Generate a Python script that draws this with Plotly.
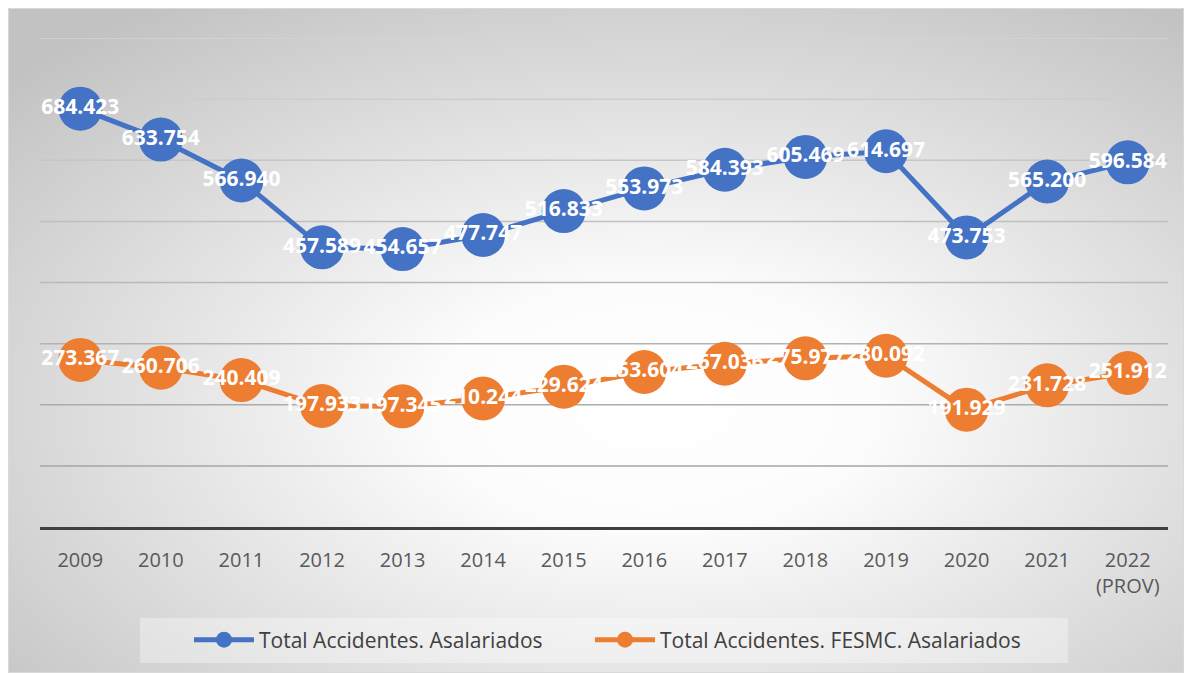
import base64
import plotly.graph_objects as go

years = ["2009", "2010", "2011", "2012", "2013", "2014", "2015", "2016", "2017",
         "2018", "2019", "2020", "2021", "2022<br>(PROV)"]
total_asalariados = [684423, 633754, 566940, 457589, 454657, 477747, 516833, 553973,
                     584393, 605469, 614697, 473753, 565200, 596584]
fesmc_asalariados = [273367, 260706, 240409, 197933, 197345, 210244, 229624, 253604,
                     267036, 275977, 280092, 191929, 231728, 251912]
series_names = ["Total Accidentes. Asalariados", "Total Accidentes. FESMC. Asalariados"]
colors = ["#4472C4", "#ED7D31"]

# figure sits at an 8px page offset (body margin)
W, H = 1176, 665
ML, MR, MT, MB = 32, 16, 30, 146
PW, PH = W - ML - MR, H - MT - MB
OFF = 8


def px_to_paper_x(px):
    return (px - OFF - ML) / PW


def px_to_paper_y(py):
    return (H - MB - (py - OFF)) / PH


def fmt(v):
    return f"{v:,}".replace(",", ".")


fig = go.Figure()
for i, (name, vals, col) in enumerate(zip(series_names, [total_asalariados, fesmc_asalariados], colors)):
    fig.add_trace(go.Scatter(
        x=years, y=vals, name=name,
        mode="lines+markers+text",
        line=dict(color=col, width=5),
        marker=dict(color=col, size=44),
        text=[fmt(v) for v in vals],
        textposition="middle center",
        textfont=dict(color="white", size=21, family="Open Sans", weight="bold"),
        cliponaxis=False,
        legend="legend" if i == 0 else "legend2",
    ))

# radial gradient background as an SVG image
svg = f'''<svg xmlns="http://www.w3.org/2000/svg" width="{W}" height="{H}" viewBox="0 0 {W} {H}" preserveAspectRatio="none">
<defs><radialGradient id="g" cx="0.55" cy="0.6" r="0.74" gradientUnits="objectBoundingBox">
<stop offset="0" stop-color="#ffffff"/><stop offset="0.25" stop-color="#fcfcfc"/>
<stop offset="1" stop-color="#c2c2c2"/></radialGradient></defs>
<rect x="0" y="0" width="{W}" height="{H}" fill="url(#g)"/></svg>'''
src = "data:image/svg+xml;base64," + base64.b64encode(svg.encode()).decode()
fig.add_layout_image(dict(
    source=src, xref="paper", yref="paper",
    x=-ML / PW, y=1 + MT / PH, sizex=W / PW, sizey=H / PH,
    xanchor="left", yanchor="top", sizing="stretch", layer="below",
))

shapes = [dict(type="rect", xref="paper", yref="paper",
               x0=-ML / PW + 0.0004, x1=1 + MR / PW - 0.0004,
               y0=-MB / PH + 0.001, y1=1 + MT / PH - 0.001,
               line=dict(color="#D9D9D9", width=1), fillcolor="rgba(0,0,0,0)", layer="below")]
# gridlines with a gradient in colour (lighter at top)
grid_vals = list(range(100000, 800001, 100000))
for v in grid_vals:
    t = (v - 100000) / 700000
    c = int(166 + (212 - 166) * t)
    shapes.append(dict(type="line", xref="paper", yref="y", x0=0, x1=1, y0=v, y1=v,
                       line=dict(color=f"rgb({c},{c},{c})", width=1.5), layer="below"))
# legend backdrop
shapes.append(dict(type="rect", xref="paper", yref="paper",
                   x0=px_to_paper_x(140), x1=px_to_paper_x(1068),
                   y0=px_to_paper_y(663), y1=px_to_paper_y(618),
                   line=dict(width=0), fillcolor="rgba(255,255,255,0.35)", layer="below"))

legend_common = dict(orientation="h", xanchor="left",
                     y=px_to_paper_y(640), yanchor="middle",
                     font=dict(family="Open Sans", size=21, color="#404040"),
                     bgcolor="rgba(0,0,0,0)", itemwidth=60, borderwidth=0)

fig.update_layout(
    width=W, height=H,
    margin=dict(l=ML, r=MR, t=MT, b=MB),
    paper_bgcolor="white", plot_bgcolor="rgba(0,0,0,0)",
    shapes=shapes,
    showlegend=True,
    legend=dict(x=px_to_paper_x(195 - 6), **legend_common),
    legend2=dict(x=px_to_paper_x(596 - 6), **legend_common),
    xaxis=dict(range=[-0.5, 13.5], showgrid=False, showline=True, linecolor="#404040",
               linewidth=3, ticks="",
               tickfont=dict(family="Open Sans", size=20, color="#595959"),
               ticklabelstandoff=13, zeroline=False),
    yaxis=dict(range=[0, 800000], showgrid=False, showticklabels=False,
               zeroline=False, showline=False, ticks=""),
)

fig.write_html("out.html")
